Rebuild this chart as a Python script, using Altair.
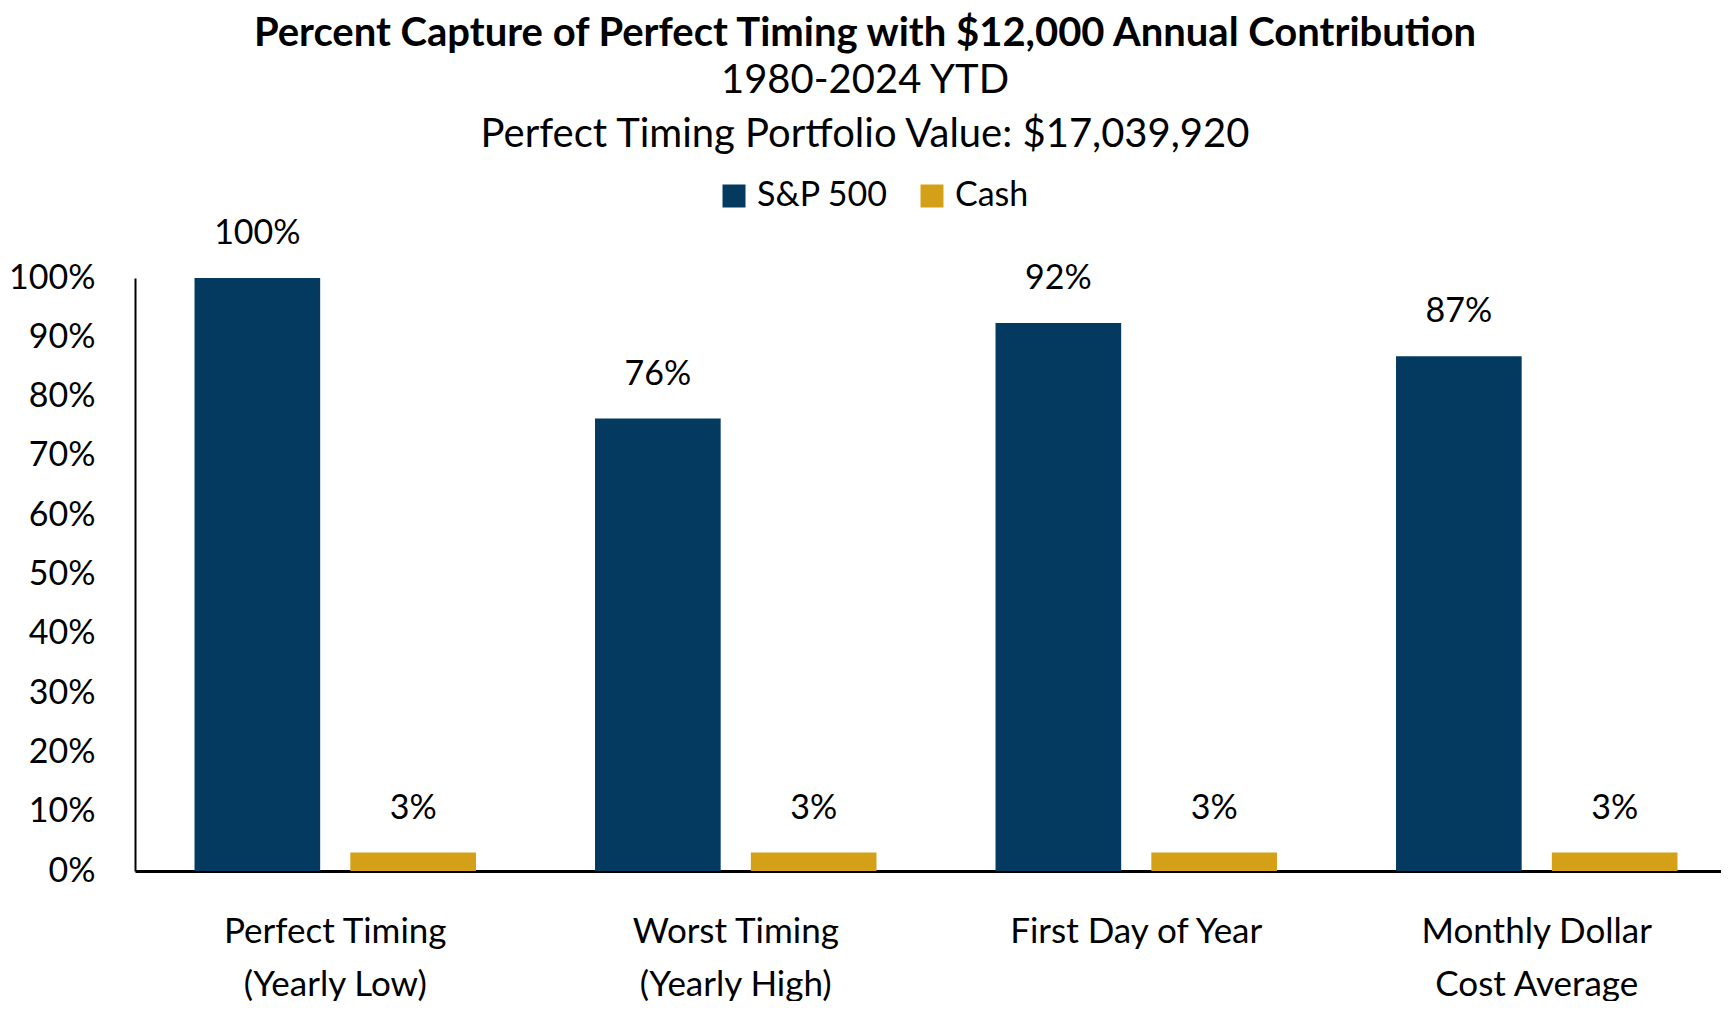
import altair as alt
import pandas as pd

categories = [
    "Perfect Timing\n(Yearly Low)",
    "Worst Timing\n(Yearly High)",
    "First Day of Year",
    "Monthly Dollar\nCost Average",
]
series = ["S&P 500", "Cash"]
sp500_values = [1.00, 0.763, 0.924, 0.868]
cash_values = [0.031, 0.031, 0.031, 0.031]
colors = ["#043A5F", "#D4A017"]

rows = []
for c, v in zip(categories, sp500_values):
    rows.append({"category": c, "series": "S&P 500", "value": v})
for c, v in zip(categories, cash_values):
    rows.append({"category": c, "series": "Cash", "value": v})
df = pd.DataFrame(rows)

FONT = "Lato"

base = alt.Chart(df).encode(
    x=alt.X(
        "category:N",
        sort=categories,
        title=None,
        scale=alt.Scale(paddingInner=0, paddingOuter=0, range=[0, 1602]),
        axis=alt.Axis(
            labelExpr="split(datum.label, '\\n')",
            labelAngle=0,
            labelFont=FONT,
            labelFontSize=35,
            labelColor="black",
            labelLineHeight=53,
            labelPadding=43,
            ticks=False,
            domainColor="black",
            domainWidth=3,
            labelLimit=400,
        ),
    ),
    xOffset=alt.XOffset(
        "series:N",
        sort=series,
        scale=alt.Scale(paddingInner=0.1935, paddingOuter=0.382),
    ),
    y=alt.Y(
        "value:Q",
        title=None,
        scale=alt.Scale(domain=[0, 1], nice=False),
        axis=alt.Axis(
            values=[0, 0.1, 0.2, 0.3, 0.4, 0.5, 0.6, 0.7, 0.8, 0.9, 1.0],
            format=".0%",
            grid=False,
            ticks=False,
            labelFont=FONT,
            labelFontSize=34,
            labelColor="black",
            labelPadding=40,
            domainColor="black",
            domainWidth=2,
        ),
    ),
)

bars = base.mark_bar().encode(
    color=alt.Color(
        "series:N",
        sort=series,
        scale=alt.Scale(domain=series, range=colors),
        legend=alt.Legend(
            orient="none",
            legendX=582,
            legendY=-99,
            direction="horizontal",
            title=None,
            symbolType="square",
            symbolSize=529,
            symbolStrokeWidth=0,
            symbolOpacity=1,
            labelFont=FONT,
            labelFontSize=34,
            labelColor="black",
            labelOffset=6,
            columnPadding=27,
            padding=0,
        ),
    )
)

labels = base.mark_text(
    font=FONT, fontSize=34, color="black", dy=-44, baseline="middle"
).encode(text=alt.Text("value:Q", format=".0%"))

chart = (
    alt.layer(bars, labels)
    .properties(
        width=1586,
        height=593,
        padding={"left": 127, "top": 270, "right": 0, "bottom": 130},
        autosize="none",
        title=alt.Title(
            "Percent Capture of Perfect Timing with $12,000 Annual Contribution",
            subtitle=["1980-2024 YTD", "Perfect Timing Portfolio Value: $17,039,920"],
            anchor="middle",
            frame="group",
            dx=-63,
            font=FONT,
            fontSize=40,
            fontWeight="bold",
            color="black",
            subtitleFont=FONT,
            subtitleFontSize=40,
            subtitleColor="black",
            subtitleLineHeight=54,
            subtitlePadding=7,
            offset=24,
        ),
    )
    .configure_view(stroke=None)
)

chart.save("out.html", embed_options={"renderer": "svg", "actions": False})
